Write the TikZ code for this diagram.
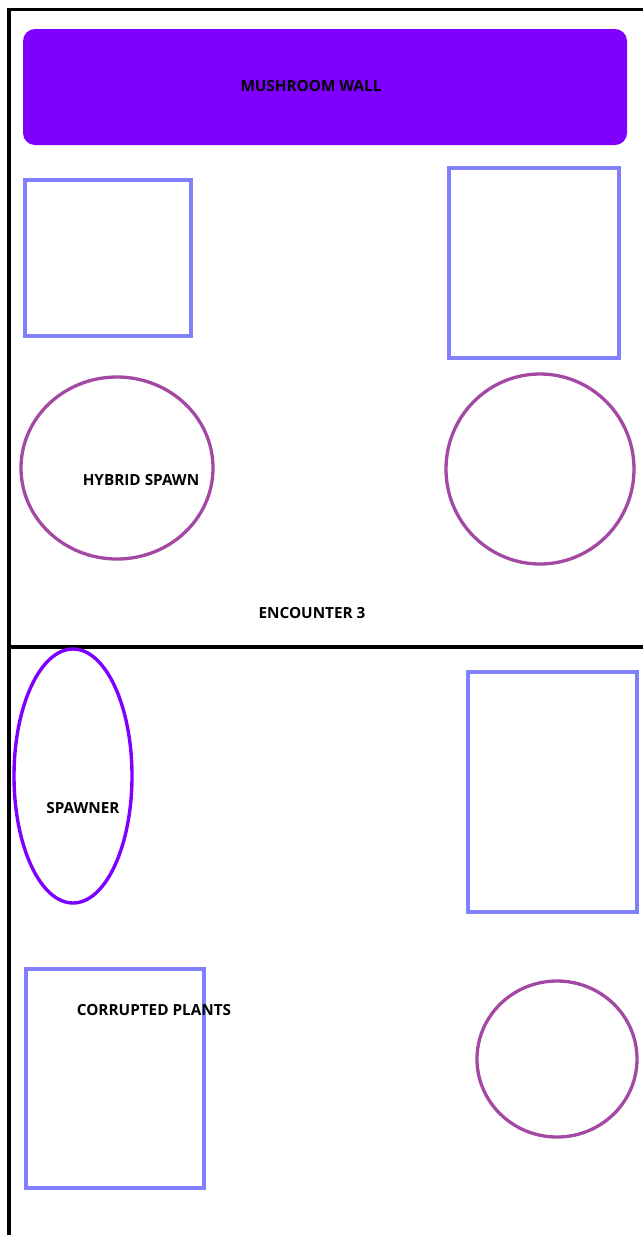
\documentclass[tikz,border=0pt]{standalone}
\usepackage{fontspec}
\setmainfont{Open Sans}
\usetikzlibrary{shapes.geometric}
\definecolor{wallc}{HTML}{8000FF}
\definecolor{boxc}{HTML}{8080FF}
\definecolor{ringc}{HTML}{A349A4}
\tikzset{
  lbl/.style={font=\bfseries\fontsize{15.3}{17}\selectfont, text=black, inner sep=0pt},
  boxs/.style={draw=boxc, line width=3.6pt},
  rings/.style={draw=ringc, line width=3.3pt},
  border/.style={draw=black, line width=3.6pt},
}
\begin{document}
\begin{tikzpicture}[x=1pt,y=-1pt]
\useasboundingbox (0,0) rectangle (643,1235);
\fill[white] (0,0) rectangle (643,1235);
% borders
\draw[border] (643,9.5) -- (9,9.5) -- (9,1235);
\draw[border, line width=4.2pt] (9,647) -- (643,647);
% mushroom wall
\fill[wallc, rounded corners=12pt] (23,29) rectangle (627,145);
\node[lbl] (wall) at (311,86) {MUSHROOM WALL};
% boxes
\draw[boxs] (25,180) rectangle (191,336);
\draw[boxs] (449,168) rectangle (619,358);
\draw[boxs] (468,672) rectangle (637,912);
\draw[boxs] (26,969) rectangle (204,1188);
% circles
\draw[rings] (117,468) ellipse [x radius=96, y radius=91];
\draw[rings] (540,469) ellipse [x radius=94, y radius=95];
\draw[rings] (557,1059) ellipse [x radius=80, y radius=78];
% spawner
\draw[draw=wallc, line width=3.4pt] (73,776) ellipse [x radius=59, y radius=127];
% labels
\node[lbl] (hybrid) at (141,480) {HYBRID SPAWN};
\node[lbl] (enc) at (312,613) {ENCOUNTER 3};
\node[lbl] (spawner) at (83,808) {SPAWNER};
\node[lbl] (plants) at (154,1010) {CORRUPTED PLANTS};
\end{tikzpicture}
\end{document}
